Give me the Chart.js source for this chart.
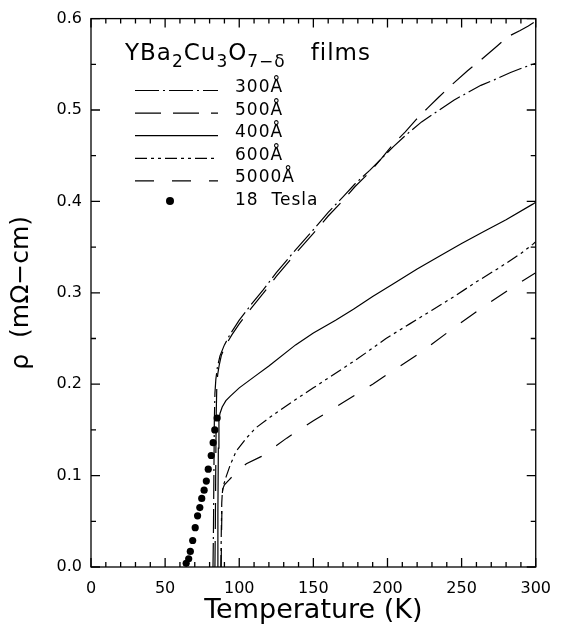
<!DOCTYPE html>
<html>
<head>
<meta charset="utf-8">
<script src="https://cdn.jsdelivr.net/npm/chart.js@4.4.1/dist/chart.umd.min.js"></script>
<style>
  html, body { margin: 0; padding: 0; background: #fff; }
  #wrap { width: 563px; height: 631px; }
</style>
</head>
<body>
<div id="wrap"><canvas id="chart" width="563" height="631"></canvas></div>
<script>
// Temperature (K) and resistivity (mOhm-cm)
const t300 = [82.3, 82.6, 82.9, 83.2, 83.6, 84.2, 85.2, 87, 90, 94, 100, 108, 116, 125, 138, 150, 160, 170, 178, 188, 196, 204, 212, 223, 235, 245, 254, 263, 272, 283, 291, 298, 300];
const r300 = [0, 0.04, 0.10, 0.16, 0.19, 0.205, 0.218, 0.231, 0.243, 0.255, 0.270, 0.287, 0.303, 0.322, 0.347, 0.369, 0.388, 0.405, 0.419, 0.434, 0.447, 0.460, 0.472, 0.487, 0.500, 0.511, 0.519, 0.527, 0.533, 0.541, 0.546, 0.550, 0.551];

const t500 = [83.6, 83.9, 84.2, 84.5, 84.9, 85.5, 86.5, 88, 91, 95, 100, 108, 116, 125, 138, 150, 160, 170, 178, 188, 196, 204, 212, 219, 227, 234.5, 245, 254, 261, 267.5, 274, 281, 289.5, 295, 300];
const r500 = [0, 0.05, 0.12, 0.17, 0.20, 0.211, 0.221, 0.232, 0.243, 0.254, 0.266, 0.283, 0.299, 0.318, 0.343, 0.365, 0.384, 0.401, 0.416, 0.432, 0.447, 0.463, 0.476, 0.489, 0.502, 0.514, 0.530, 0.543, 0.552, 0.561, 0.570, 0.580, 0.587, 0.592, 0.597];

const t400 = [85.3, 85.6, 85.9, 86.3, 87, 88.5, 91, 94, 100, 110, 120, 138, 150, 165, 177, 190, 204, 220, 237, 250, 265, 280, 298, 300];
const r400 = [0, 0.06, 0.13, 0.160, 0.168, 0.175, 0.182, 0.187, 0.196, 0.208, 0.220, 0.243, 0.256, 0.270, 0.282, 0.296, 0.310, 0.326, 0.342, 0.354, 0.367, 0.380, 0.397, 0.399];

const t600 = [87.6, 87.9, 88.2, 88.6, 89.5, 91, 94, 98, 104.8, 111, 120, 135, 150, 165, 180, 199, 215, 230, 245, 260, 275, 290, 298, 300];
const r600 = [0, 0.04, 0.07, 0.082, 0.090, 0.098, 0.112, 0.127, 0.141, 0.152, 0.163, 0.180, 0.196, 0.212, 0.228, 0.250, 0.266, 0.281, 0.296, 0.312, 0.327, 0.343, 0.353, 0.356];

const t5000 = [87.8, 88.1, 88.4, 88.8, 90, 93, 97, 104.8, 115, 132, 150, 170, 190, 201, 220, 245, 265, 289, 300];
const r5000 = [0, 0.04, 0.075, 0.085, 0.090, 0.095, 0.102, 0.113, 0.121, 0.141, 0.160, 0.180, 0.200, 0.212, 0.232, 0.262, 0.285, 0.311, 0.322];

// 18 Tesla points
const tField = [64.2, 65.9, 67.0, 68.6, 70.3, 71.9, 73.4, 74.7, 76.3, 77.8, 79.1, 81.1, 82.4, 83.5, 85.1];
const rField = [0.004, 0.009, 0.017, 0.029, 0.043, 0.056, 0.065, 0.075, 0.084, 0.094, 0.107, 0.122, 0.136, 0.150, 0.163];

const xTicks = [0, 50, 100, 150, 200, 250, 300];
const xMinor = [10, 20, 30, 40, 60, 70, 80, 90, 110, 120, 130, 140, 160, 170, 180, 190, 210, 220, 230, 240, 260, 270, 280, 290];
const yTicks = [0, 0.1, 0.2, 0.3, 0.4, 0.5, 0.6];
const yTickLabels = ['0.0', '0.1', '0.2', '0.3', '0.4', '0.5', '0.6'];
const yMinor = [0.05, 0.15, 0.25, 0.35, 0.45, 0.55];

const seriesNames = ['300Å', '500Å', '400Å', '600Å', '5000Å', '18  Tesla'];

const FONT = 'DejaVu Sans';
Chart.defaults.font.family = FONT;
Chart.defaults.color = '#000';

function toPoints(ts, rs) {
    return ts.map((t, i) => ({ x: t, y: rs[i] }));
}

function lineSet(name, ts, rs, dash) {
    return {
        label: name,
        data: toPoints(ts, rs),
        borderColor: '#000',
        borderWidth: 1.2,
        borderDash: dash,
        pointRadius: 0,
        fill: false,
        tension: 0
    };
}

// frame with inward ticks on all four sides
const frameTicks = {
    id: 'frameTicks',
    afterDatasetsDraw(chart) {
        const { ctx, chartArea: a, scales: { x, y } } = chart;
        ctx.save();
        ctx.strokeStyle = '#000';
        ctx.lineWidth = 1.3;
        ctx.setLineDash([]);
        ctx.strokeRect(a.left, a.top, a.right - a.left, a.bottom - a.top);
        ctx.beginPath();
        const xt = (v, len) => {
            const px = x.getPixelForValue(v);
            ctx.moveTo(px, a.bottom); ctx.lineTo(px, a.bottom - len);
            ctx.moveTo(px, a.top); ctx.lineTo(px, a.top + len);
        };
        const yt = (v, len) => {
            const py = y.getPixelForValue(v);
            ctx.moveTo(a.left, py); ctx.lineTo(a.left + len, py);
            ctx.moveTo(a.right, py); ctx.lineTo(a.right - len, py);
        };
        xTicks.forEach(v => xt(v, 9));
        xMinor.forEach(v => xt(v, 5));
        yTicks.forEach(v => yt(v, 9));
        yMinor.forEach(v => yt(v, 5));
        ctx.stroke();
        ctx.restore();
    }
};

// key in the upper left of the plot
const keyBox = {
    id: 'keyBox',
    afterDraw(chart) {
        const ctx = chart.ctx;
        ctx.save();
        ctx.fillStyle = '#000';
        ctx.textBaseline = 'alphabetic';
        ctx.letterSpacing = '1px';

        // title with subscripts
        let x = 125;
        const base = 60;
        const parts = [
            ['YBa', 0], ['2', 1], ['Cu', 0], ['3', 1], ['O', 0], ['7−δ', 1], ['   films', 0]
        ];
        parts.forEach(([txt, sub]) => {
            ctx.font = sub ? `17px ${FONT}` : `23px ${FONT}`;
            ctx.fillText(txt, x, base + (sub ? 7 : 0));
            x += ctx.measureText(txt).width;
        });

        // rows
        ctx.font = `17px ${FONT}`;
        const sets = chart.data.datasets;
        sets.forEach((ds, i) => {
            const by = 92 + i * 22.6;
            if (ds.showLine === false) {
                ctx.beginPath();
                ctx.arc(170, by - 4, 4, 0, Math.PI * 2);
                ctx.fill();
            } else {
                ctx.beginPath();
                ctx.lineWidth = ds.borderWidth;
                ctx.strokeStyle = ds.borderColor;
                ctx.setLineDash(ds.borderDash || []);
                ctx.moveTo(135, by - 1.5);
                ctx.lineTo(218, by - 1.5);
                ctx.stroke();
                ctx.setLineDash([]);
            }
            ctx.fillText(seriesNames[i], 235, by);
        });
        ctx.restore();
    }
};

new Chart(document.getElementById('chart'), {
    type: 'line',
    data: {
        datasets: [
            lineSet(seriesNames[0], t300, r300, [24, 4, 2, 4]),
            lineSet(seriesNames[1], t500, r500, [26, 12]),
            lineSet(seriesNames[2], t400, r400, []),
            lineSet(seriesNames[3], t600, r600, [12, 4, 3, 4, 3, 4]),
            lineSet(seriesNames[4], t5000, r5000, [19, 18]),
            {
                label: seriesNames[5],
                data: toPoints(tField, rField),
                showLine: false,
                pointRadius: 3.6,
                pointBackgroundColor: '#000',
                pointBorderWidth: 0,
                borderColor: '#000'
            }
        ]
    },
    options: {
        responsive: false,
        animation: false,
        devicePixelRatio: 1,
        layout: { padding: { top: 14, right: 17, left: 0, bottom: 0 } },
        plugins: {
            legend: { display: false },
            tooltip: { enabled: false }
        },
        scales: {
            x: {
                type: 'linear',
                min: 0,
                max: 300,
                afterBuildTicks: s => { s.ticks = xTicks.map(v => ({ value: v })); },
                ticks: { font: { size: 16 }, color: '#000', padding: 12, maxRotation: 0 },
                grid: { display: true, drawOnChartArea: false, drawTicks: false },
                border: { display: false },
                title: { display: true, text: 'Temperature (K)', font: { size: 27 }, color: '#000', padding: { top: 4 } },
                afterFit: s => { s.height = 64; }
            },
            y: {
                type: 'linear',
                min: 0,
                max: 0.6,
                afterBuildTicks: s => { s.ticks = yTicks.map(v => ({ value: v })); },
                ticks: {
                    font: { size: 16 },
                    color: '#000',
                    padding: 9,
                    callback: (v) => yTickLabels[yTicks.findIndex(t => Math.abs(t - v) < 1e-9)]
                },
                grid: { display: true, drawOnChartArea: false, drawTicks: false },
                border: { display: false },
                title: { display: true, text: 'ρ  (mΩ−cm)', font: { size: 25 }, color: '#000', padding: { top: 6 } },
                afterFit: s => { s.width = 91; }
            }
        }
    },
    plugins: [frameTicks, keyBox]
});
</script>
</body>
</html>
